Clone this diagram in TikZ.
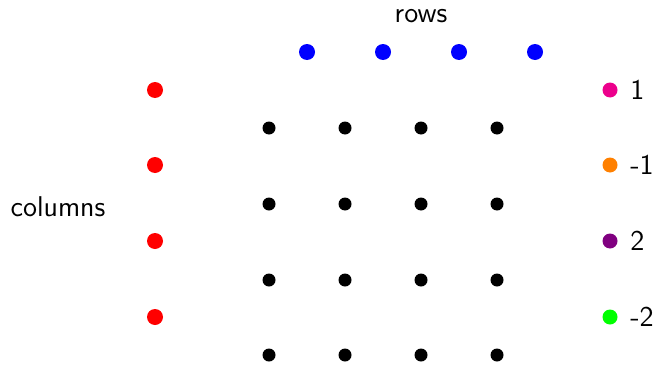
\documentclass[tikz,border=0pt]{standalone}
\definecolor{lpink}{RGB}{236,0,140}
\definecolor{lorange}{RGB}{255,128,0}
\definecolor{lpurple}{RGB}{128,0,128}
\definecolor{lgreen}{RGB}{0,255,0}
\begin{document}
\begin{tikzpicture}[x=0.5pt,y=-0.5pt,
  bigdot/.style={circle,inner sep=0pt,minimum size=8pt,fill=#1},
  smalldot/.style={circle,inner sep=0pt,minimum size=6.5pt,fill=black},
  legdot/.style={circle,inner sep=0pt,minimum size=7.5pt,fill=#1},
  lbl/.style={font=\sffamily\fontsize{14.3}{17}\selectfont,inner sep=0pt}]
\useasboundingbox (0,0) rectangle (658,364);
\node[lbl] (rows) at (421,16) {rows};
\node[lbl] (cols) at (58,207) {columns};
\foreach \x [count=\i] in {307,383,459,535} \node[bigdot=blue] (b\i) at (\x,52) {};
\foreach \y [count=\i] in {90,165,241,317} \node[bigdot=red] (r\i) at (155,\y) {};
\foreach \x [count=\i] in {269,345,421,497}
  \foreach \y [count=\j] in {128,204,280,355}
    \node[smalldot] (k\i\j) at (\x,\y) {};
\foreach \y/\c/\t [count=\i] in {90/lpink/1,165/lorange/-1,241/lpurple/2,317/lgreen/-2}{
  \node[legdot=\c] (l\i) at (610,\y) {};
  \node[lbl,anchor=west] (t\i) at (630,\y) {\t};
}
\end{tikzpicture}
\end{document}
